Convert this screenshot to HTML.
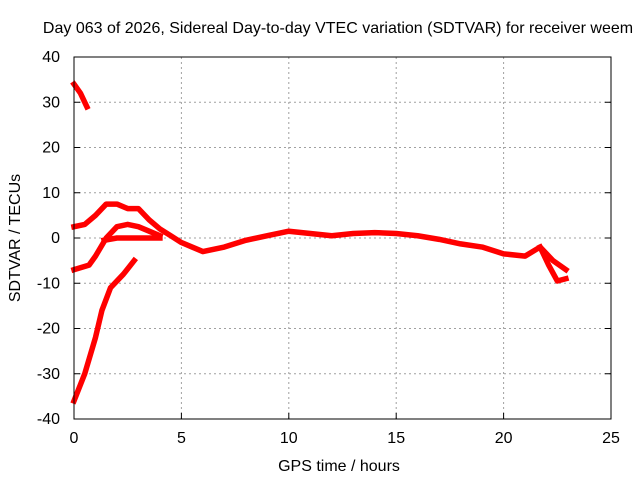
<!DOCTYPE html>
<html><head><meta charset="utf-8"><style>
body{margin:0;background:#fff}
svg{display:block;font-family:"Liberation Sans",Arial,sans-serif;font-size:16px}
</style></head><body>
<svg width="640" height="480" viewBox="0 0 640 480">
<rect width="640" height="480" fill="#fff"/>
<text x="338" y="33" text-anchor="middle">Day 063 of 2026, Sidereal Day-to-day VTEC variation (SDTVAR) for receiver weem</text>
<g id="grid"></g>
<g id="series"></g>
<rect x="74" y="57" width="537" height="362" fill="none" stroke="#000" stroke-width="1"/>
<g id="ticks"></g>
<text x="339" y="471" text-anchor="middle">GPS time / hours</text>
<text transform="translate(20,238) rotate(-90)" text-anchor="middle">SDTVAR / TECUs</text>
</svg>
<script>
const xTicks=[0,5,10,15,20,25];
const yTicks=[-40,-30,-20,-10,0,10,20,30,40];
const s1x=[0,0.3,0.6], s1y=[34,32,29];
const s2x=[0,0.5,1,1.5,2,2.5,3,3.5,4,4.5,5,5.5,6,7,8,9,10,11,12,13,14,15,16,17,18,19,20,21,21.7,22.3,22.9];
const s2y=[2.5,3,5,7.5,7.5,6.5,6.5,4,2,0.5,-1,-2,-3,-2,-0.5,0.5,1.5,1,0.5,1,1.2,1,0.5,-0.3,-1.3,-2,-3.5,-4,-2,-5,-7];
const s3x=[0,0.7,1,1.5,2,2.5,3,3.5,4];
const s3y=[-7,-6,-4,0,2.5,3,2.5,1.5,0.5];
const s4x=[1.4,2,3,4];
const s4y=[-0.5,0,0,0];
const s5x=[0,0.5,1,1.3,1.7,2.3,2.8];
const s5y=[-36,-30,-22,-16,-11,-8,-5];
const s6x=[21.7,22.1,22.5,22.9];
const s6y=[-2,-6,-9.5,-9];
const NS='http://www.w3.org/2000/svg';
const X=v=>74+v*(537/25), Y=v=>238-v*(181/40);
const grid=document.getElementById('grid'),ticks=document.getElementById('ticks'),ser=document.getElementById('series');
function mk(t,a,p){const e=document.createElementNS(NS,t);for(const k in a)e.setAttribute(k,a[k]);p.appendChild(e);return e;}
xTicks.forEach(t=>{
 if(t>0&&t<25){const g=mk('line',{x1:X(t),x2:X(t),y1:57,y2:419,stroke:'#a0a0a0','stroke-dasharray':'2,3'},grid);
 
 }
 const l=mk('line',{x1:X(t),x2:X(t),y1:419,y2:413,stroke:'#000'},ticks);
 
 
 const tx=mk('text',{x:X(t),y:443,'text-anchor':'middle'},ticks);tx.textContent=t;
 
 
});
yTicks.forEach(t=>{
 if(t>-40&&t<40){const g=mk('line',{x1:74,x2:611,y1:Y(t),y2:Y(t),stroke:'#a0a0a0','stroke-dasharray':'2,3'},grid);
 
 }
 const l=mk('line',{x1:74,x2:80,y1:Y(t),y2:Y(t),stroke:'#000'},ticks);
 
 
 const l2=mk('line',{x1:605,x2:611,y1:Y(t),y2:Y(t),stroke:'#000'},ticks);
 
 
 const tx=mk('text',{x:60,y:Y(t)+5,'text-anchor':'end'},ticks);tx.textContent=t;
 
 
});
[[s1x,s1y],[s2x,s2y],[s3x,s3y],[s4x,s4y],[s5x,s5y],[s6x,s6y]].forEach((s,i)=>{
 const pts=s[0].map((x,j)=>X(x)+','+Y(s[1][j])).join(' ');
 const p=mk('polyline',{points:pts,fill:'none',stroke:'#ff0000','stroke-width':5.5,'stroke-linejoin':'round','stroke-linecap':'square'},ser);
 
 
});
</script>
</body></html>
